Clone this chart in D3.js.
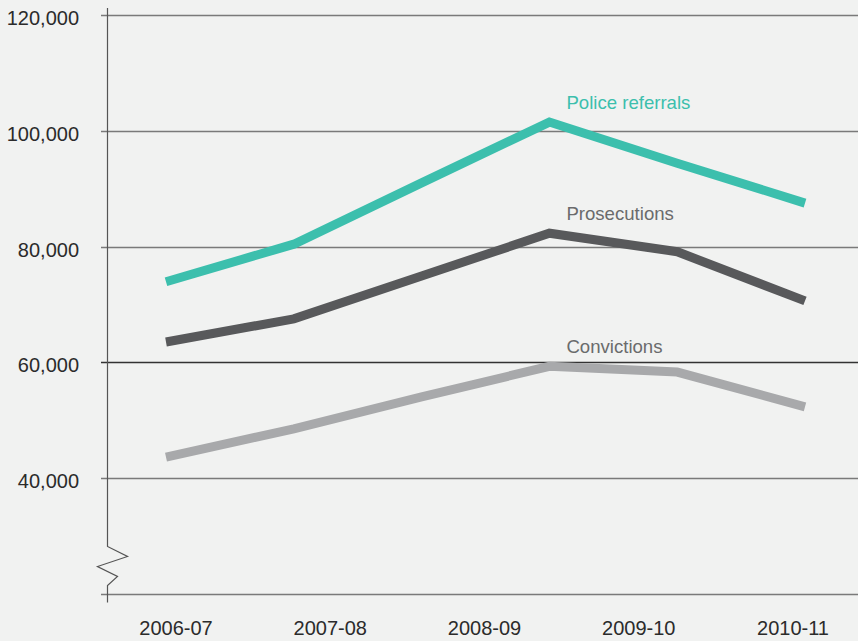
<!DOCTYPE html>
<html>
<head>
<meta charset="utf-8">
<script src="https://cdn.jsdelivr.net/npm/d3@7"></script>
<style>
  html, body { margin: 0; padding: 0; background: #f1f2f1; }
  svg { display: block; }
  text { font-family: "Liberation Sans", Arial, sans-serif; }
</style>
</head>
<body>
<svg id="chart" width="858" height="641"></svg>
<script>
// Financial years shown along the bottom
const years = ["2006-07", "2007-08", "2008-09", "2009-10", "2010-11"];

// Six observation points per series, evenly spaced across the plot
const points = [0, 1, 2, 3, 4, 5];

const policeReferrals = [73900, 80400, 91000, 101500, 94400, 87500];
const prosecutions    = [63500, 67500, 74900, 82300, 79100, 70600];
const convictions     = [43600, 48500, 54000, 59300, 58300, 52300];

const yTicks = [120000, 100000, 80000, 60000, 40000];

const series = [
  { name: "Police referrals", values: policeReferrals, color: "#3cbfad", label: "#3cbfad" },
  { name: "Prosecutions",     values: prosecutions,    color: "#58595b", label: "#6a6b6c" },
  { name: "Convictions",      values: convictions,     color: "#a8a9ab", label: "#6a6b6c" }
];

const svg = d3.select("#chart");
const W = 858;
const axisX = 107.5;

const y = d3.scaleLinear().domain([40000, 120000]).range([478, 15]);
const xData = d3.scaleLinear().domain([0, 5]).range([166, 805]);
const xYears = d3.scalePoint().domain(years).range([176, 793]);

// Horizontal grid lines with short ticks left of the axis
const grid = svg.append("g");
grid.selectAll("line")
  .data(yTicks)
  .join("line")
  .attr("x1", axisX - 6.5)
  .attr("x2", W)
  .attr("y1", d => Math.round(y(d)) + 0.5)
  .attr("y2", d => Math.round(y(d)) + 0.5)
  .attr("stroke", d => d === 60000 ? "#333" : "#7a7a7a")
  .attr("stroke-width", 1.3);

grid.selectAll("text")
  .data(yTicks)
  .join("text")
  .attr("x", 79)
  .attr("y", d => y(d) + 10)
  .attr("text-anchor", "end")
  .attr("font-size", 20)
  .attr("fill", "#2b2b2b")
  .text(d => d3.format(",")(d));

// Baseline of the truncated axis
const baseY = Math.round(y(20000)) + 0.5;
svg.append("line")
  .attr("x1", axisX - 6.5).attr("x2", W)
  .attr("y1", baseY).attr("y2", baseY)
  .attr("stroke", "#7a7a7a").attr("stroke-width", 1.3);

// Vertical axis with a break symbol near the bottom
const breakTop = baseY - 48;
svg.append("path")
  .attr("d", d3.line()([
    [axisX, 8], [axisX, breakTop],
    [axisX + 20, breakTop + 10], [axisX - 10, breakTop + 20],
    [axisX + 10, breakTop + 30], [axisX, breakTop + 39],
    [axisX, baseY + 8]
  ]))
  .attr("fill", "none")
  .attr("stroke", "#555")
  .attr("stroke-width", 1.2);

// Year labels
svg.append("g").selectAll("text")
  .data(years)
  .join("text")
  .attr("x", d => xYears(d))
  .attr("y", 635)
  .attr("text-anchor", "middle")
  .attr("font-size", 20)
  .attr("fill", "#2b2b2b")
  .text(d => d);

// Series lines
const line = d3.line()
  .x((d, i) => xData(points[i]))
  .y(d => y(d));

svg.append("g").selectAll("path")
  .data(series)
  .join("path")
  .attr("d", d => line(d.values))
  .attr("fill", "none")
  .attr("stroke", d => d.color)
  .attr("stroke-width", 9)
  .attr("stroke-linejoin", "miter");

// Series names placed above each peak
svg.append("g").selectAll("text")
  .data(series)
  .join("text")
  .attr("x", xData(points[3]) + 17)
  .attr("y", d => y(d3.max(d.values)) - 13)
  .attr("font-size", 18.6)
  .attr("fill", d => d.label)
  .text(d => d.name);
</script>
</body>
</html>
